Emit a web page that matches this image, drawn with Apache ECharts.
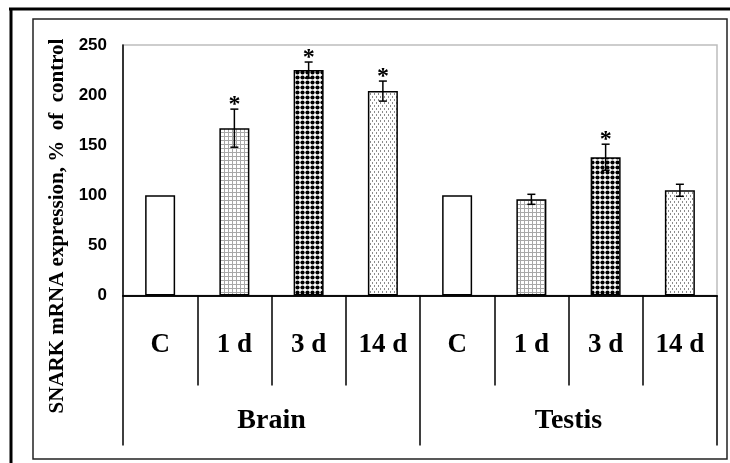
<!DOCTYPE html>
<html>
<head>
<meta charset="utf-8">
<script src="https://cdn.jsdelivr.net/npm/echarts@6/dist/echarts.min.js"></script>
<style>
html,body{margin:0;padding:0;background:#fff;}
#chart{width:730px;height:463px;}
</style>
</head>
<body>
<div id="chart"></div>
<script>
// ---- data ----
var categories = ['C', '1 d', '3 d', '14 d', 'C', '1 d', '3 d', '14 d'];
var groups = ['Brain', 'Testis'];
var means = [100, 167, 225, 204, 100, 96, 138, 105];
var errors = [0, 19, 8, 10, 0, 5, 13, 6];
var significant = [false, true, true, true, false, false, true, false];
var fillKinds = ['plain', 'grid', 'dots', 'stipple', 'plain', 'grid', 'dots', 'stipple'];
var yTicks = [0, 50, 100, 150, 200, 250];
var yTitle = 'SNARK mRNA expression, %  of  control';

// ---- patterns ----
function makeTile(w, h, draw) {
  var c = document.createElement('canvas');
  c.width = w; c.height = h;
  var ctx = c.getContext('2d');
  ctx.fillStyle = '#ffffff';
  ctx.fillRect(0, 0, w, h);
  draw(ctx);
  return c;
}
var patterns = {
  plain: '#ffffff',
  grid: { image: makeTile(4, 4, function (ctx) {
    ctx.fillStyle = '#a8a8a8';
    ctx.fillRect(0, 0, 4, 1);
    ctx.fillRect(0, 0, 1, 4);
  }), repeat: 'repeat' },
  dots: { image: makeTile(5, 5, function (ctx) {
    ctx.fillStyle = '#000000';
    ctx.beginPath();
    ctx.arc(2.5, 2.5, 2.1, 0, Math.PI * 2);
    ctx.fill();
  }), repeat: 'repeat' },
  stipple: { image: makeTile(4, 6, function (ctx) {
    ctx.fillStyle = '#8c8c8c';
    ctx.fillRect(0, 0, 1, 2);
    ctx.fillRect(2, 3, 1, 2);
  }), repeat: 'repeat' }
};

var barData = means.map(function (v, i) {
  return { value: v, itemStyle: { color: patterns[fillKinds[i]] } };
});
var errData = means.map(function (v, i) {
  return [i, v, errors[i], significant[i] ? 1 : 0];
});

var chart = echarts.init(document.getElementById('chart'), null, { renderer: 'canvas' });
var serif = '"Liberation Serif", "Times New Roman", serif';
var sans = '"Liberation Sans", Arial, sans-serif';

chart.setOption({
  animation: false,
  backgroundColor: '#ffffff',
  grid: {
    left: 123, top: 45, width: 594, height: 250.5,
    show: true, borderColor: '#bdbdbd', borderWidth: 1.5, backgroundColor: 'transparent'
  },
  xAxis: [{
    type: 'category',
    data: categories,
    position: 'bottom',
    axisLine: { lineStyle: { color: '#000', width: 1.5 } },
    axisTick: { show: true, interval: 0, length: 90, lineStyle: { color: '#000', width: 1.5 } },
    axisLabel: { interval: 0, margin: 36, color: '#000', fontFamily: serif, fontWeight: 'bold', fontSize: 27, lineHeight: 27 }
  }, {
    type: 'category',
    data: groups,
    position: 'bottom',
    axisLine: { lineStyle: { color: '#000', width: 1.5 } },
    axisTick: { show: true, interval: 0, length: 150, lineStyle: { color: '#000', width: 1.5 } },
    axisLabel: { interval: 0, margin: 111, color: '#000', fontFamily: serif, fontWeight: 'bold', fontSize: 28, lineHeight: 28 }
  }],
  yAxis: {
    type: 'value', min: 0, max: 250, interval: 50,
    axisLine: { show: true, lineStyle: { color: '#000', width: 1.5 } },
    axisTick: { show: false },
    splitLine: { show: false },
    axisLabel: {
      margin: 16, color: '#000', fontFamily: sans, fontWeight: 'bold', fontSize: 17,
      formatter: function (v) { return yTicks.indexOf(v) >= 0 ? String(v) : ''; }
    }
  },
  series: [{
    type: 'bar',
    xAxisIndex: 0,
    data: barData,
    barWidth: 30,
    itemStyle: { borderColor: '#000', borderWidth: 1.5 }
  }, {
    type: 'custom',
    xAxisIndex: 0,
    data: errData,
    z: 5,
    renderItem: function (params, api) {
      var idx = api.value(0), m = api.value(1), e = api.value(2), sig = api.value(3);
      var top = api.coord([idx, m + e]);
      var bot = api.coord([idx, m - e]);
      var children = [];
      if (e > 0) {
        var style = { stroke: '#000', lineWidth: 1.5 };
        children.push({ type: 'line', shape: { x1: top[0], y1: top[1], x2: bot[0], y2: bot[1] }, style: style });
        children.push({ type: 'line', shape: { x1: top[0] - 4, y1: top[1], x2: top[0] + 4, y2: top[1] }, style: style });
        children.push({ type: 'line', shape: { x1: bot[0] - 4, y1: bot[1], x2: bot[0] + 4, y2: bot[1] }, style: style });
      }
      if (sig) {
        children.push({ type: 'text', style: {
          text: '*', x: top[0], y: top[1] - 4, align: 'center', verticalAlign: 'middle',
          font: 'bold 24px ' + serif, fill: '#000'
        } });
      }
      return { type: 'group', children: children };
    }
  }],
  graphic: [
    { type: 'line', shape: { x1: 9, y1: 9, x2: 730, y2: 9 }, style: { stroke: '#000', lineWidth: 3 } },
    { type: 'line', shape: { x1: 11, y1: 9, x2: 11, y2: 463 }, style: { stroke: '#000', lineWidth: 3 } },
    { type: 'rect', shape: { x: 33, y: 19, width: 694, height: 440 }, style: { fill: 'none', stroke: '#222', lineWidth: 1.5 } },
    { type: 'text', x: 58, y: 226, rotation: Math.PI / 2, style: {
      text: yTitle, align: 'center', verticalAlign: 'middle',
      font: 'bold 21px ' + serif, fill: '#000'
    } }
  ]
});
</script>
</body>
</html>
